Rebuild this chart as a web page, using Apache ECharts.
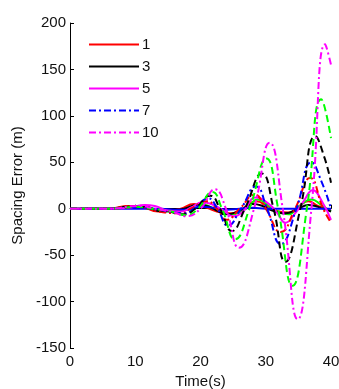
<!DOCTYPE html>
<html>
<head>
<meta charset="utf-8">
<script src="https://cdn.jsdelivr.net/npm/echarts@6/dist/echarts.min.js"></script>
<style>
  html, body { margin: 0; padding: 0; background: #fff; }
  #main { width: 339px; height: 389px; }
</style>
</head>
<body>
<div id="main"></div>
<script>
// spacing error of each vehicle, [time (s), error (m)]
const s1 = [[0,0],[6,0],[9,3],[11,2],[13.5,-3],[15.5,-2],[17,0],[19,5],[21,1],[22.5,-3],[24.5,-5],[26.5,0],[28.5,8],[30.5,2],[32,-3],[33.5,-4],[35,2],[36.5,8],[38,3],[40,-2]]
const s2 = [[0,0],[6,0],[9.5,2],[12,1],[14.5,-3],[16.5,-2],[18,0],[20,5],[21.5,2],[23,-3],[25,-6],[27,0],[28.8,10],[30.5,3],[32,-4],[33.5,-6],[35,2],[37,10],[38.5,4],[40,-3]]
const s3 = [[0,0],[6,0],[9,2],[11.5,2],[14,-3],[16,-2],[17.5,0],[19.5,4],[21,3],[22.5,-2],[24,-6],[26,-2],[28,5],[29.5,3],[31,-2],[33,-5],[35,0],[36.5,4],[38,2],[40,-3]]
const s4 = [[0,0],[14,0],[16,-1],[18,-1],[20,2],[22,1],[24,-1],[26,0],[28,1],[30,0],[40,0]]
const s5 = [[0,0],[6,0],[9,1],[11.5,4],[13,3],[15,-2],[17,-3],[18.5,1],[20.3,7],[22,4],[23.5,-2],[25,-8],[26.5,-3],[28.5,12],[30.5,5],[31.8,-5],[33,-15],[34.5,-5],[35.8,8],[37.2,20],[38.6,8],[40,-12]]
const s6 = [[0,0],[6,0],[9.5,3],[12,0],[14.5,-4],[17,-5],[18.5,0],[21,8],[22.5,0],[24,-12],[26,0],[28.3,15],[30,0],[32.3,-25],[34.5,0],[36.8,33],[38.8,0],[40,-15]]
const s7 = [[0,0],[6,0],[10,2],[12.5,0],[15,-3],[17.5,-5],[19,0],[21.2,11],[22.6,0],[24.2,-18],[26.2,0],[28.5,24],[30.2,0],[32.3,-38],[34.7,0],[37,50],[38.5,30],[40,0]]
const s8 = [[0,0],[6,0],[10,2],[12.5,0],[15,-3],[17.5,-6],[19.2,0],[21.5,14],[23,0],[24.8,-24],[26.8,0],[29.4,38],[31.2,0],[33,-57],[35.3,0],[37.6,78],[39,55],[40,28]]
const s9 = [[0,0],[6,0],[10,2],[12.5,0],[15.5,-3],[17.8,-7],[19.6,0],[21.8,18],[23.3,0],[25.3,-33],[27.5,0],[30.1,54],[31.9,0],[34.1,-83],[36.3,0],[38.5,118],[40,76]]
const s10 = [[0,0],[6,0],[10.5,3],[13,0],[16,-4],[17.8,-8],[20,0],[22.2,21],[23.9,0],[25.9,-42],[28.2,0],[30.6,71],[32.6,0],[34.9,-119],[37,0],[39.1,177],[40,155]]

const names = ['1', '2', '3', '4', '5', '6', '7', '8', '9', '10']
const legendNames = ['1', '3', '5', '7', '10']
const xTicks = [0, 40, 10]
const yTicks = [-150, 200, 50]

const dashDot = [7, 3, 2, 3]
const styles = [
  { color: '#ff0000', type: 'solid' },
  { color: '#00ff00', type: 'solid' },
  { color: '#000000', type: 'solid' },
  { color: '#0000ff', type: 'solid' },
  { color: '#ff00ff', type: 'solid' },
  { color: '#ff0000', type: dashDot },
  { color: '#0000ff', type: dashDot },
  { color: '#000000', type: [7, 4] },
  { color: '#00ff00', type: [7, 4] },
  { color: '#ff00ff', type: dashDot }
]
const allData = [s1, s2, s3, s4, s5, s6, s7, s8, s9, s10]

const chart = echarts.init(document.getElementById('main'))
const font = 'Liberation Sans, Arial, sans-serif'

chart.setOption({
  animation: false,
  textStyle: { fontFamily: font },
  grid: { left: 70, right: 8, top: 23, bottom: 41, outerBoundsMode: 'none' },
  legend: {
    data: legendNames,
    orient: 'vertical',
    left: 83,
    top: 32,
    itemWidth: 50,
    itemHeight: 10,
    itemGap: 7,
    itemStyle: { opacity: 0 },
    textStyle: { fontSize: 15, color: '#111', fontFamily: font, padding: [0, 0, 0, -2] }
  },
  xAxis: {
    type: 'value',
    min: xTicks[0],
    max: xTicks[1],
    interval: xTicks[2],
    name: 'Time(s)',
    nameLocation: 'middle',
    nameGap: 24,
    nameTextStyle: { fontSize: 15, color: '#111' },
    axisLine: { lineStyle: { color: '#000', width: 1 } },
    axisTick: { inside: true, length: 4, lineStyle: { color: '#000' } },
    axisLabel: { fontSize: 15, color: '#111', margin: 6 },
    splitLine: { show: false }
  },
  yAxis: {
    type: 'value',
    min: yTicks[0],
    max: yTicks[1],
    interval: yTicks[2],
    name: 'Spacing Error (m)',
    nameLocation: 'middle',
    nameGap: 44,
    nameTextStyle: { fontSize: 15, color: '#111' },
    axisLine: { show: true, lineStyle: { color: '#000', width: 1 } },
    axisTick: { show: true, inside: true, length: 4, lineStyle: { color: '#000' } },
    axisLabel: { fontSize: 15, color: '#111', margin: 4 },
    splitLine: { show: false }
  },
  series: allData.map((d, i) => ({
    name: names[i],
    type: 'line',
    data: d,
    smooth: 0.5,
    symbol: 'none',
    lineStyle: { width: 2, color: styles[i].color, type: styles[i].type },
    itemStyle: { color: styles[i].color }
  }))
})
</script>
</body>
</html>
